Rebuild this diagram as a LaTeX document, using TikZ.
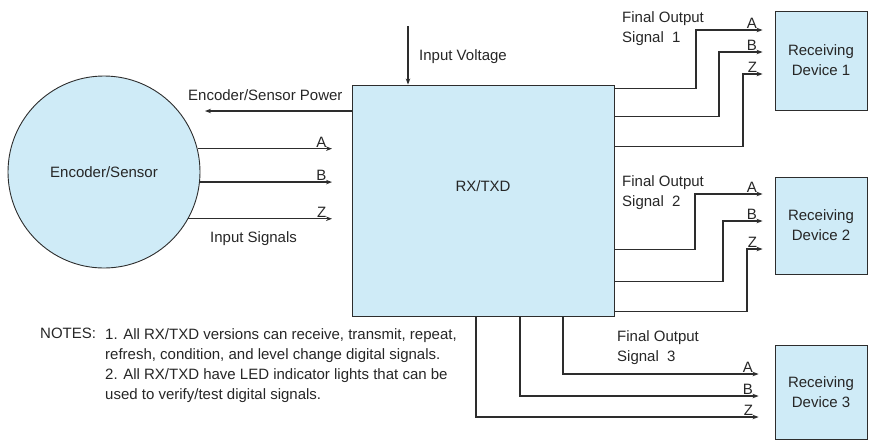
\documentclass[tikz,border=0pt]{standalone}
\usepackage{fontspec}
\setmainfont{Liberation Sans}
\usetikzlibrary{positioning,calc,arrows.meta}
\definecolor{boxblue}{RGB}{207,235,247}
\definecolor{linegray}{RGB}{45,45,45}
\tikzset{blk/.style={draw=linegray, fill=boxblue, line width=0.9pt, inner sep=0pt, text=black!85, align=center},
	sig/.style={draw=linegray, line width=1.2pt, -{Stealth[length=6pt,width=4.5pt]}},
	lbl/.style={text=black!85, inner sep=0pt, align=left},
	tip/.style={text=black!85, inner sep=1pt, above left, xshift=-4pt}}
\newcommand{\txt}{\fontsize{15}{20}\selectfont}

\begin{document}
\begin{tikzpicture}[x=1pt,y=-1pt,font=\txt]
		\useasboundingbox (0,0) rectangle (872,440);
		% blocks
		\node[blk, circle, minimum size=192pt] (enc) at (104,172) {Encoder/Sensor};
		\node[blk, minimum width=262pt, minimum height=231pt] (rx) at (483,200.5) {};
		\node[lbl] (rxtxt) at ($(rx.center)+(0,-14)$) {RX/TXD};
		\node[blk, minimum width=92pt, minimum height=99pt] (dev1) at (821,60.5) {Receiving\\Device 1};
		\node[blk, minimum width=92pt, minimum height=97pt] (dev2) at (821,225.5) {Receiving\\Device 2};
		\node[blk, minimum width=92pt, minimum height=94pt] (dev3) at (821,392) {Receiving\\Device 3};
		% free ends
		\coordinate (inx) at (332,0);
		\coordinate (pwr) at (205,111);
		\coordinate (vin) at (408,26);
		% encoder side
		\draw[sig] (vin) -- (vin |- rx.north);
		\draw[sig] (rx.west |- pwr) -- (pwr);
		\draw[sig] (enc.14.5) -- (enc.14.5 -| inx) node[tip] {A};
		\draw[sig] (enc.-6.6) -- (enc.-6.6 -| inx) node[tip] {B};
		\draw[sig] (enc.-29.3) -- (enc.-29.3 -| inx) node[tip] {Z};
		% outputs 1
		\draw[sig] ($(rx.north east)+(0,4)$) -| (696,30) -- ($(dev1.west |- 0,30)+(-12,0)$) node[tip] {A};
		\draw[sig] ($(rx.north east)+(0,32)$) -| (719,52) -- ($(dev1.west |- 0,52)+(-12,0)$) node[tip] {B};
		\draw[sig] ($(rx.north east)+(0,62)$) -| (743,74) -- ($(dev1.west |- 0,74)+(-12,0)$) node[tip] {Z};
		% outputs 2
		\draw[sig] ($(rx.north east)+(0,165)$) -| (695,194) -- ($(dev2.west |- 0,194)+(-12,0)$) node[tip] {A};
		\draw[sig] ($(rx.north east)+(0,197)$) -| (723,221) -- ($(dev2.west |- 0,221)+(-12,0)$) node[tip] {B};
		\draw[sig] ($(rx.north east)+(0,227)$) -| (747,249) -- ($(dev2.west |- 0,249)+(-12,0)$) node[tip] {Z};
		% outputs 3
		\draw[sig] (rx.south -| 563,0) |- ($(dev3.west |- 0,374)+(-16,0)$) node[tip] {A};
		\draw[sig] (rx.south -| 520,0) |- ($(dev3.west |- 0,396)+(-16,0)$) node[tip] {B};
		\draw[sig] (rx.south -| 476,0) |- ($(dev3.west |- 0,417)+(-16,0)$) node[tip] {Z};
		% labels
		\node[lbl, anchor=west] (vtxt) at (419,57) {Input Voltage};
		\node[lbl, anchor=west] (ptxt) at (188,95) {Encoder/Sensor Power};
		\node[lbl, anchor=west] (stxt) at (210,239) {Input Signals};
		\node[lbl, anchor=north west] (out1) at (622,11) {Final Output\\Signal\ \ 1};
		\node[lbl, anchor=north west] (out2) at (622,175) {Final Output\\Signal\ \ 2};
		\node[lbl, anchor=north west] (out3) at (617,330) {Final Output\\Signal\ \ 3};
		\node[lbl, anchor=north west] (notes) at (40,328) {NOTES:};
		\node[lbl, anchor=north west] (notetxt) at (105,328) {1. All RX/TXD versions can receive, transmit, repeat,\\refresh, condition, and level change digital signals.\\2. All RX/TXD have LED indicator lights that can be\\used to verify/test digital signals.};
	\end{tikzpicture}
\end{document}
